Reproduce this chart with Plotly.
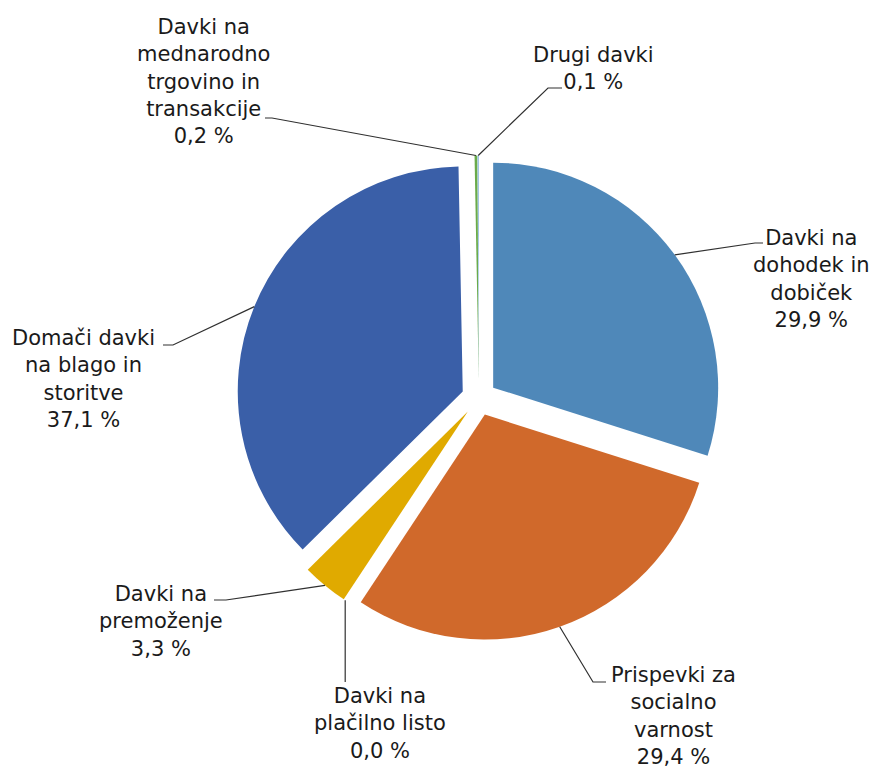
import math
import plotly.graph_objects as go

# ---------------- data ----------------
categories = [
    "Davki na dohodek in dobiček",
    "Prispevki za socialno varnost",
    "Davki na plačilno listo",
    "Davki na premoženje",
    "Domači davki na blago in storitve",
    "Davki na mednarodno trgovino in transakcije",
    "Drugi davki",
]
shares = [29.9, 29.4, 0.0, 3.3, 37.1, 0.2, 0.1]
label_lines = [
    ["Davki na", "dohodek in", "dobiček"],
    ["Prispevki za", "socialno", "varnost"],
    ["Davki na", "plačilno listo"],
    ["Davki na", "premoženje"],
    ["Domači davki", "na blago in", "storitve"],
    ["Davki na", "mednarodno", "trgovino in", "transakcije"],
    ["Drugi davki"],
]
colors = ["#4F88B9", "#D0692B", "#BFBFBF", "#E0AA00", "#3A5FA8", "#6AAB4A", "#9DC3E6"]

# ---------------- layout / style ----------------
W, H = 872, 769
CX, CY = 479, 398          # pie centre (px)
R = 225                    # pie radius (px)
PULL = 0.078               # explosion (fraction of radius)
FONT = dict(family="DejaVu Sans", size=21, color="#1a1a1a")
LINE_COLOR = "#303030"

# label block centres (px) and leader-line text ends / elbows (px)
label_pos = [(811, 279), (673, 716), (380, 723), (161, 621), (83, 379), (203, 82), (593, 68)]
line_end = [(763, 243), (606, 682), (None, 682), (214, 600), (163, 345), (265, 118), (562, 88)]
elbow_dx = [-8, -13, 0, 12, 10, 7, -14]

B = 2 * R * (1 + PULL)
dom_x = [(CX - B / 2) / W, (CX + B / 2) / W]
dom_y = [1 - (CY + B / 2) / H, 1 - (CY - B / 2) / H]


def px(x):
    return x / W


def py(y):
    return 1 - y / H


def fmt(v):
    return f"{v:.1f}".replace(".", ",") + " %"


fig = go.Figure(
    go.Pie(
        labels=categories,
        values=shares,
        sort=False,
        direction="clockwise",
        rotation=0,
        pull=[PULL] * len(shares),
        marker=dict(colors=colors, line=dict(width=0)),
        textinfo="none",
        hoverinfo="label+percent",
        domain=dict(x=dom_x, y=dom_y),
        showlegend=False,
    )
)

# annotations + leader lines computed from the slice angles
total = sum(shares)
cum = 0.0
shapes = []
annotations = []
for i, v in enumerate(shares):
    start = cum / total * 360
    cum += v
    end = cum / total * 360
    mid = math.radians((start + end) / 2)
    ux, uy = math.sin(mid), -math.cos(mid)
    ax = CX + (PULL * R + R) * ux
    ay = CY + (PULL * R + R) * uy
    ex, ey = line_end[i]
    if ex is None:
        ex = ax
    elx = ex + elbow_dx[i]
    path = f"M {px(ax)},{py(ay)} L {px(elx)},{py(ey)} L {px(ex)},{py(ey)}"
    shapes.append(dict(type="path", xref="paper", yref="paper", path=path,
                       line=dict(color=LINE_COLOR, width=1.2)))
    text = "<br>".join(label_lines[i] + [fmt(v)])
    lx, ly = label_pos[i]
    annotations.append(dict(x=px(lx), y=py(ly), xref="paper", yref="paper",
                            text=text, showarrow=False, xanchor="center",
                            yanchor="middle", align="center", font=FONT))

fig.update_layout(
    width=W,
    height=H,
    margin=dict(l=0, r=0, t=0, b=0),
    paper_bgcolor="white",
    plot_bgcolor="white",
    shapes=shapes,
    annotations=annotations,
)

fig.write_html(
    "out.html",
    config={"displayModeBar": False},
    post_script="document.body.style.margin='0';document.body.style.overflow='hidden';",
)
